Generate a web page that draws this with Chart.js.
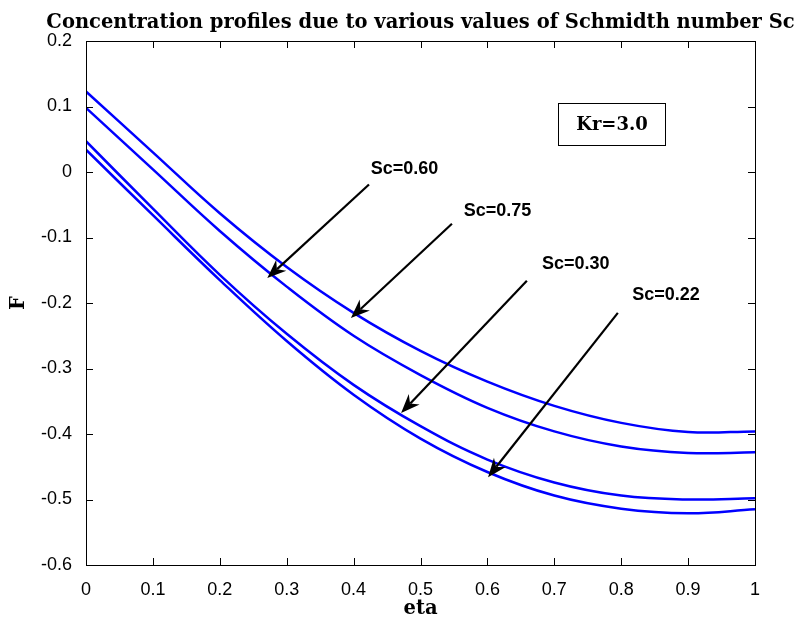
<!DOCTYPE html>
<html>
<head>
<meta charset="utf-8">
<script src="https://cdn.jsdelivr.net/npm/chart.js@4.4.0/dist/chart.umd.min.js"></script>
<style>
  body { margin: 0; background: #fff; }
</style>
</head>
<body>
<canvas id="grafico" width="796" height="619"></canvas>
<script>
// Dados do grafico
const eta = [0, 0.1, 0.2, 0.3, 0.4, 0.5, 0.6, 0.7, 0.8, 0.9, 1.0];
const fSc060 = [0.123, 0.030, -0.063, -0.145, -0.215, -0.273, -0.320, -0.357, -0.383, -0.397, -0.396];
const fSc075 = [0.098, 0.004, -0.090, -0.175, -0.250, -0.310, -0.360, -0.396, -0.419, -0.429, -0.428];
const fSc030 = [0.047, -0.056, -0.157, -0.247, -0.325, -0.388, -0.439, -0.474, -0.494, -0.500, -0.498];
const fSc022 = [0.034, -0.066, -0.165, -0.258, -0.340, -0.407, -0.458, -0.494, -0.514, -0.521, -0.515];
const xTicks = [0, 0.1, 0.2, 0.3, 0.4, 0.5, 0.6, 0.7, 0.8, 0.9, 1];
const yTicks = [0.2, 0.1, 0, -0.1, -0.2, -0.3, -0.4, -0.5, -0.6];

// Anotacoes (coordenadas nos eixos)
const rotulos = [
    { texto: 'Sc=0.60', x: 0.476, y: 0.005, de: [0.423, -0.019], para: [0.271, -0.162] },
    { texto: 'Sc=0.75', x: 0.615, y: -0.059, de: [0.547, -0.079], para: [0.396, -0.223] },
    { texto: 'Sc=0.30', x: 0.732, y: -0.141, de: [0.659, -0.166], para: [0.471, -0.368] },
    { texto: 'Sc=0.22', x: 0.867, y: -0.188, de: [0.795, -0.215], para: [0.601, -0.466] }
];
const caixaKr = { texto: 'Kr=3.0', x1: 0.706, x2: 0.865, y1: 0.105, y2: 0.041 };

const fonteSerif = '"DejaVu Serif", "Liberation Serif", serif';
const fonteSans = '"Liberation Sans", Arial, sans-serif';

function serie(valores) {
    return {
        data: eta.map((e, i) => ({ x: e, y: valores[i] })),
        borderColor: '#0000ff',
        borderWidth: 2.5,
        pointRadius: 0,
        tension: 0.4,
        fill: false
    };
}

function seta(ctx, x1, y1, x2, y2) {
    const ang = Math.atan2(y2 - y1, x2 - x1);
    const comp = 19, larg = 7.5, recuo = 6;
    ctx.beginPath();
    ctx.moveTo(x1, y1);
    ctx.lineTo(x2 - Math.cos(ang) * comp * 0.7, y2 - Math.sin(ang) * comp * 0.7);
    ctx.stroke();
    ctx.save();
    ctx.translate(x2, y2);
    ctx.rotate(ang);
    ctx.beginPath();
    ctx.moveTo(0, 0);
    ctx.lineTo(-comp, -larg);
    ctx.lineTo(-comp + recuo, 0);
    ctx.lineTo(-comp, larg);
    ctx.closePath();
    ctx.fill();
    ctx.restore();
}

// Moldura estilo MATLAB, anotacoes e titulos
const moldura = {
    id: 'moldura',
    afterDatasetsDraw(chart) {
        const { ctx, chartArea: a, scales: { x, y } } = chart;
        ctx.save();
        ctx.strokeStyle = '#000';
        ctx.lineWidth = 1;
        ctx.strokeRect(Math.round(a.left) + 0.5, Math.round(a.top) + 0.5,
            Math.round(a.width), Math.round(a.height));

        const tick = 7;
        ctx.beginPath();
        xTicks.forEach(v => {
            const px = Math.round(x.getPixelForValue(v)) + 0.5;
            ctx.moveTo(px, a.bottom); ctx.lineTo(px, a.bottom - tick);
            ctx.moveTo(px, a.top); ctx.lineTo(px, a.top + tick);
        });
        yTicks.forEach(v => {
            const py = Math.round(y.getPixelForValue(v)) + 0.5;
            ctx.moveTo(a.left, py); ctx.lineTo(a.left + tick, py);
            ctx.moveTo(a.right, py); ctx.lineTo(a.right - tick, py);
        });
        ctx.stroke();

        // setas e rotulos
        ctx.fillStyle = '#000';
        ctx.lineWidth = 2.2;
        ctx.font = 'bold 18px ' + fonteSans;
        ctx.textAlign = 'center';
        ctx.textBaseline = 'middle';
        rotulos.forEach(r => {
            ctx.fillText(r.texto, x.getPixelForValue(r.x), y.getPixelForValue(r.y));
            seta(ctx, x.getPixelForValue(r.de[0]), y.getPixelForValue(r.de[1]),
                x.getPixelForValue(r.para[0]), y.getPixelForValue(r.para[1]));
        });

        // caixa Kr
        const bx1 = Math.round(x.getPixelForValue(caixaKr.x1)) + 0.5;
        const bx2 = Math.round(x.getPixelForValue(caixaKr.x2)) + 0.5;
        const by1 = Math.round(y.getPixelForValue(caixaKr.y1)) + 0.5;
        const by2 = Math.round(y.getPixelForValue(caixaKr.y2)) + 0.5;
        ctx.lineWidth = 1;
        ctx.strokeRect(bx1, by1, bx2 - bx1, by2 - by1);
        ctx.font = 'bold 18px ' + fonteSerif;
        ctx.fillText(caixaKr.texto, (bx1 + bx2) / 2, (by1 + by2) / 2 + 1);

        // titulo e nomes dos eixos
        ctx.font = 'bold 19.5px ' + fonteSerif;
        ctx.textBaseline = 'alphabetic';
        ctx.fillText('Concentration profiles due to various values of Schmidth number Sc', (a.left + a.right) / 2, 28);
        ctx.fillText('eta', (a.left + a.right) / 2, 614);
        ctx.save();
        ctx.translate(24, (a.top + a.bottom) / 2);
        ctx.rotate(-Math.PI / 2);
        ctx.fillText('F', 0, 0);
        ctx.restore();
        ctx.restore();
    }
};

new Chart(document.getElementById('grafico').getContext('2d'), {
    type: 'line',
    data: {
        datasets: [serie(fSc060), serie(fSc075), serie(fSc030), serie(fSc022)]
    },
    options: {
        responsive: false,
        animation: false,
        devicePixelRatio: 1,
        layout: { padding: { left: 0, right: 41, top: 41, bottom: 0 } },
        plugins: {
            legend: { display: false },
            tooltip: { enabled: false },
            title: { display: false }
        },
        scales: {
            x: {
                type: 'linear',
                min: 0,
                max: 1,
                afterFit: s => { s.height = 54; },
                afterBuildTicks: s => { s.ticks = xTicks.map(v => ({ value: v })); },
                grid: { display: false },
                border: { display: false },
                ticks: {
                    color: '#000',
                    padding: 6,
                    maxRotation: 0,
                    font: { family: fonteSans, size: 18 },
                    callback: v => String(Math.round(v * 10) / 10)
                }
            },
            y: {
                type: 'linear',
                min: -0.6,
                max: 0.2,
                afterFit: s => { s.width = 86; },
                afterBuildTicks: s => { s.ticks = yTicks.map(v => ({ value: v })); },
                grid: { display: false },
                border: { display: false },
                ticks: {
                    color: '#000',
                    padding: 6,
                    font: { family: fonteSans, size: 18 },
                    callback: v => String(Math.round(v * 10) / 10)
                }
            }
        }
    },
    plugins: [moldura]
});
</script>
</body>
</html>
